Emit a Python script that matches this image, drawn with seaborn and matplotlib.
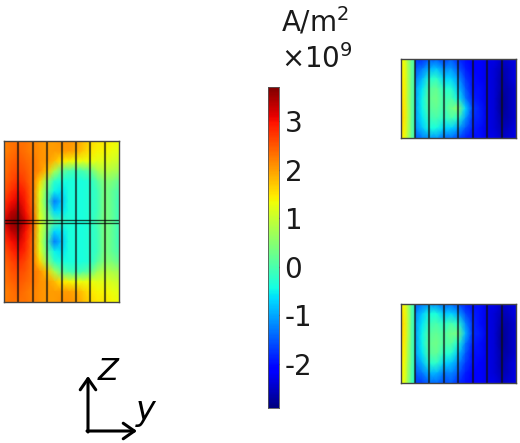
import numpy as np
import matplotlib
matplotlib.use('Agg')
import matplotlib.pyplot as plt
from matplotlib.patches import FancyArrowPatch
import seaborn as sns

W, H = 520, 443
vmin, vmax = -2.91, 3.705
cbar_ticks = [-2, -1, 0, 1, 2, 3]

# current density, 1e9 A/m2, one row per height
left_panel = [
    [2.2, 2.3, 2.3, 2.3, 2.2, 2.1, 2.0, 2.0, 2.1, 2.1, 2.0, 1.8, 1.6, 1.5, 1.5, 1.4, 1.3],
    [2.2, 2.3, 2.4, 2.3, 2.2, 2.1, 2.0, 2.0, 2.0, 2.0, 1.9, 1.7, 1.5, 1.4, 1.4, 1.3, 1.2],
    [2.3, 2.4, 2.5, 2.4, 2.3, 2.1, 2.0, 1.8, 1.5, 1.4, 1.3, 1.3, 1.3, 1.2, 1.2, 1.1, 1.0],
    [2.3, 2.5, 2.6, 2.5, 2.3, 2.1, 1.7, 0.8, 0.2, 0.0, -0.1, 0.0, 0.2, 0.7, 0.9, 0.8, 0.7],
    [2.4, 2.6, 2.8, 2.6, 2.3, 1.6, 0.6, -0.2, -0.4, -0.4, -0.4, -0.4, -0.3, 0.1, 0.5, 0.4, 0.2],
    [2.5, 2.8, 3.0, 2.8, 2.3, 1.2, 0.2, -0.5, -0.6, -0.4, -0.4, -0.4, -0.3, -0.1, 0.4, 0.2, 0.0],
    [2.7, 3.0, 3.2, 2.9, 2.3, 1.1, 0.0, -1.3, -0.8, -0.4, -0.4, -0.4, -0.3, -0.1, 0.4, 0.2, -0.1],
    [2.9, 3.3, 3.5, 3.0, 2.4, 1.1, 0.3, -0.7, -0.6, -0.4, -0.4, -0.4, -0.3, -0.1, 0.4, 0.2, -0.1],
    [3.2, 3.6, 3.7, 3.2, 2.5, 1.2, 0.5, 0.1, -0.2, -0.3, -0.4, -0.4, -0.3, 0.0, 0.4, 0.2, -0.1],
    [2.9, 3.3, 3.5, 3.0, 2.4, 1.1, 0.3, -0.7, -0.6, -0.4, -0.4, -0.4, -0.3, -0.1, 0.4, 0.2, -0.1],
    [2.7, 3.0, 3.2, 2.9, 2.3, 1.1, 0.0, -1.3, -0.8, -0.4, -0.4, -0.4, -0.3, -0.1, 0.4, 0.2, -0.1],
    [2.5, 2.8, 3.0, 2.8, 2.3, 1.2, 0.2, -0.5, -0.6, -0.4, -0.4, -0.4, -0.3, -0.1, 0.4, 0.2, 0.0],
    [2.4, 2.6, 2.8, 2.6, 2.3, 1.6, 0.6, -0.2, -0.4, -0.4, -0.4, -0.4, -0.3, 0.1, 0.5, 0.4, 0.2],
    [2.3, 2.5, 2.6, 2.5, 2.3, 2.1, 1.7, 0.8, 0.2, 0.0, -0.1, 0.0, 0.2, 0.7, 0.9, 0.8, 0.7],
    [2.3, 2.4, 2.5, 2.4, 2.3, 2.1, 2.0, 1.8, 1.5, 1.4, 1.3, 1.3, 1.3, 1.2, 1.2, 1.1, 1.0],
    [2.2, 2.3, 2.4, 2.3, 2.2, 2.1, 2.0, 2.0, 2.0, 2.0, 1.9, 1.7, 1.5, 1.4, 1.4, 1.3, 1.2],
    [2.2, 2.3, 2.3, 2.3, 2.2, 2.1, 2.0, 2.0, 2.1, 2.1, 2.0, 1.8, 1.6, 1.5, 1.5, 1.4, 1.3],
]

# first cell of the right hand parts, there is a jump at its right edge
top_strip = [
    [1.35, 1.3, 0.7, 0.2, 0.0],
    [1.45, 1.4, 0.8, 0.2, 0.0],
    [1.55, 1.45, 0.8, 0.2, 0.0],
    [1.7, 1.5, 0.9, 0.2, -0.1],
    [1.5, 1.35, 0.8, 0.2, -0.1],
]
bottom_strip = [
    [1.5, 1.35, 0.8, 0.1, -0.2],
    [1.7, 1.5, 0.9, 0.1, -0.2],
    [1.55, 1.45, 0.8, 0.1, -0.2],
    [1.45, 1.35, 0.7, 0.1, -0.2],
    [1.35, 1.2, 0.6, 0.0, -0.3],
]

top_panel = [
    [-1.7, -1.8, -1.5, -1.5, -1.7, -1.5, -1.8, -2.0, -2.1, -2.1, -2.3, -2.3, -2.5, -2.4, -2.3],
    [-1.5, -1.3, -0.9, -0.8, -1.2, -1.1, -1.5, -1.9, -2.1, -2.1, -2.3, -2.4, -2.6, -2.5, -2.3],
    [-1.3, -0.9, -0.3, -0.2, -0.7, -0.7, -1.1, -1.7, -2.0, -2.1, -2.3, -2.4, -2.7, -2.5, -2.3],
    [-1.1, -0.6, 0.1, 0.2, -0.3, -0.3, -0.8, -1.5, -2.0, -2.0, -2.3, -2.4, -2.7, -2.6, -2.4],
    [-1.1, -0.5, 0.2, 0.3, -0.1, 0.0, -0.5, -1.3, -1.9, -2.0, -2.3, -2.4, -2.8, -2.6, -2.4],
    [-1.1, -0.5, 0.1, 0.2, -0.1, 0.3, 0.5, -0.7, -1.7, -1.9, -2.3, -2.4, -2.8, -2.6, -2.4],
    [-1.1, -0.6, -0.1, 0.0, -0.3, 0.0, -0.3, -1.1, -1.8, -1.9, -2.3, -2.4, -2.7, -2.6, -2.4],
    [-1.2, -0.8, -0.4, -0.4, -0.7, -0.7, -1.0, -1.5, -1.9, -2.0, -2.3, -2.4, -2.6, -2.5, -2.3],
    [-1.5, -1.3, -1.1, -1.1, -1.4, -1.4, -1.6, -1.9, -2.0, -2.0, -2.3, -2.3, -2.5, -2.4, -2.3],
]
bottom_panel = [
    [-1.5, -1.3, -1.1, -1.2, -1.4, -1.4, -1.6, -1.9, -2.0, -2.0, -2.3, -2.3, -2.5, -2.4, -2.3],
    [-1.2, -0.8, -0.4, -0.4, -0.8, -0.7, -1.0, -1.6, -1.9, -2.0, -2.3, -2.4, -2.6, -2.5, -2.3],
    [-1.1, -0.6, -0.1, 0.0, -0.3, 0.0, -0.3, -1.2, -1.8, -2.0, -2.3, -2.4, -2.7, -2.6, -2.4],
    [-1.1, -0.5, 0.1, 0.2, 0.0, 0.3, 0.3, -0.9, -1.8, -1.9, -2.3, -2.4, -2.8, -2.6, -2.4],
    [-1.1, -0.5, 0.2, 0.3, 0.0, 0.1, -0.4, -1.3, -1.9, -2.0, -2.3, -2.4, -2.8, -2.6, -2.4],
    [-1.1, -0.6, 0.1, 0.2, -0.3, -0.3, -0.8, -1.5, -2.0, -2.0, -2.3, -2.4, -2.7, -2.6, -2.4],
    [-1.3, -0.9, -0.3, -0.2, -0.7, -0.8, -1.2, -1.7, -2.0, -2.1, -2.3, -2.4, -2.7, -2.5, -2.3],
    [-1.5, -1.3, -0.9, -0.9, -1.3, -1.2, -1.5, -1.9, -2.1, -2.1, -2.3, -2.4, -2.6, -2.5, -2.3],
    [-1.7, -1.7, -1.4, -1.4, -1.6, -1.5, -1.8, -2.0, -2.1, -2.1, -2.3, -2.3, -2.5, -2.4, -2.3],
]

sns.set_theme(style='white')
plt.rcParams['font.family'] = ['DejaVu Sans']

fig = plt.figure(figsize=(W / 100, H / 100), dpi=100)


def px_axes(x0, y0, x1, y1):
    return fig.add_axes([x0 / W, 1 - y1 / H, (x1 - x0) / W, (y1 - y0) / H])


def field(data, box):
    ax = px_axes(*box)
    rows, cols = np.shape(data)
    sns.heatmap(np.array(data), ax=ax, cmap='jet', vmin=vmin, vmax=vmax, cbar=False,
                xticklabels=False, yticklabels=False, shading='gouraud')
    ax.set_xlim(0, cols - 1)
    ax.set_ylim(rows - 1, 0)
    return ax


def cell_lines(ax, n):
    # the conductors, n cells across the axes
    for i in range(1, n):
        ax.axvline(i / n * ax.get_xlim()[1], color='#101010', alpha=0.65, lw=1.6)


def frame(box):
    ax = px_axes(*box)
    ax.patch.set_alpha(0)
    ax.set_xticks([])
    ax.set_yticks([])
    for s in ax.spines.values():
        s.set_visible(True)
        s.set_color('#444444')
        s.set_linewidth(1.0)
    return ax


# left part
ax = field(left_panel, (4, 141, 119, 302))
cell_lines(ax, 8)
ax.axhline(7.9, color='black', alpha=0.7, lw=1.0)
ax.axhline(8.15, color='black', alpha=0.7, lw=1.0)
frame((4, 141, 119, 302))

# right parts
for strip, panel, y0, y1 in [(top_strip, top_panel, 59, 138), (bottom_strip, bottom_panel, 304, 383)]:
    field(strip, (401, y0, 415, y1))
    ax = field(panel, (415, y0, 516, y1))
    cell_lines(ax, 7)
    frame((401, y0, 516, y1)).axvline(14 / 115, color='#101010', alpha=0.65, lw=1.6)

# colour bar
cax = px_axes(268, 87, 279, 408)
grad = np.linspace(vmin, vmax, 256)[::-1].reshape(-1, 1)
sns.heatmap(grad, ax=cax, cmap='jet', vmin=vmin, vmax=vmax, cbar=False,
            xticklabels=False, yticklabels=False)
tick_pos = [(vmax - t) / (vmax - vmin) * 256 for t in cbar_ticks]
cax.yaxis.tick_right()
cax.set_yticks(tick_pos)
cax.set_yticklabels([str(t) for t in cbar_ticks], rotation=0, fontsize=20, color='#1a1a1a')
cax.tick_params(axis='y', left=True, right=True, direction='in', length=2, width=1,
                color='#333333', pad=4)
for s in cax.spines.values():
    s.set_visible(True)
    s.set_color('#555555')
    s.set_linewidth(0.6)

fig.text(281 / W, 1 - 32 / H, 'A/m$^2$', fontsize=20, color='#1a1a1a')
fig.text(281 / W, 1 - 68 / H, '\u00d710$^9$', fontsize=20, color='#1a1a1a')

# coordinate triad
arrow = dict(arrowstyle='->,head_width=0.28,head_length=0.4', mutation_scale=20, lw=2.2,
             color='black', shrinkA=0, shrinkB=0, transform=fig.transFigure)
fig.add_artist(FancyArrowPatch((88 / W, 1 - 432 / H), (88 / W, 1 - 376 / H), **arrow))
fig.add_artist(FancyArrowPatch((87 / W, 1 - 431 / H), (137 / W, 1 - 431 / H), **arrow))
fig.text(98 / W, 1 - 380 / H, 'Z', fontsize=22, style='italic', color='black')
fig.text(136 / W, 1 - 420 / H, 'y', fontsize=24, style='italic', color='black')

fig.savefig('out.png', dpi=100)
